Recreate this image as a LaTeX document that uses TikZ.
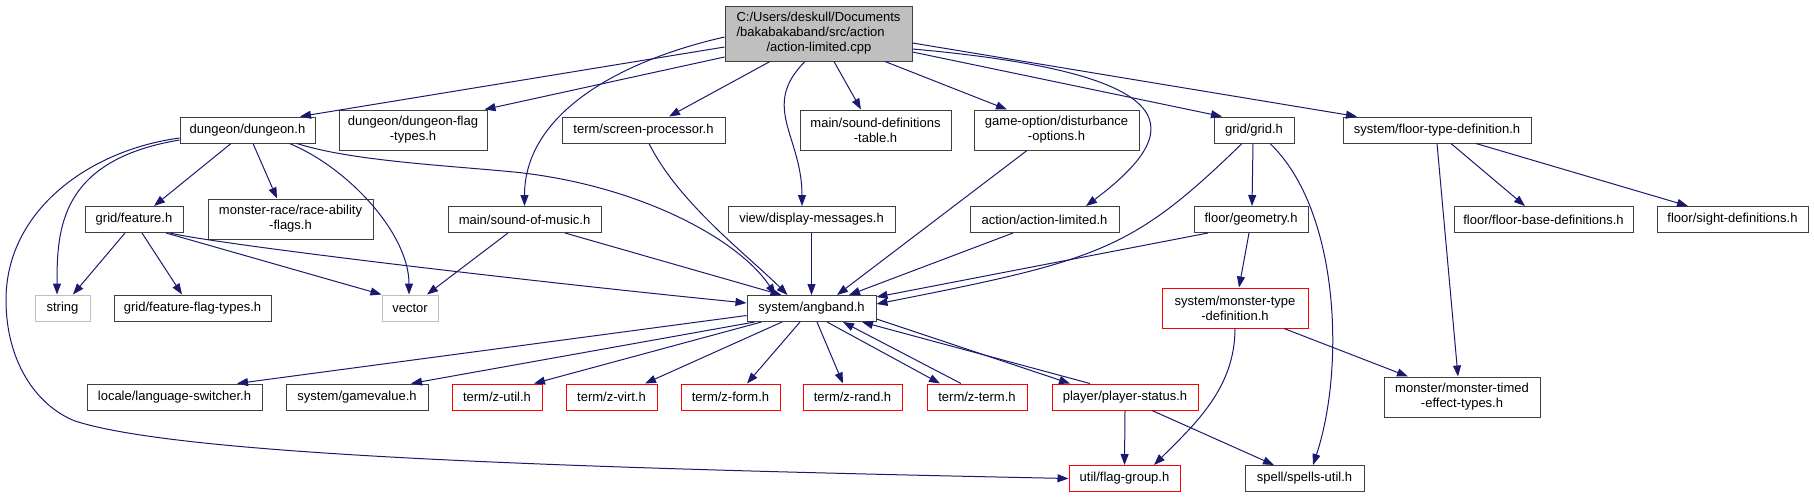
\documentclass[tikz,border=0pt]{standalone}
\usepackage{fontspec}
\setmainfont{Liberation Sans}
\usetikzlibrary{arrows.meta}
\definecolor{edgeblue}{RGB}{25,25,112}
\definecolor{boxgray}{RGB}{64,64,64}
\definecolor{rootfill}{RGB}{191,191,191}
\definecolor{extgray}{RGB}{191,191,191}
\begin{document}
\begin{tikzpicture}[x=1pt,y=-1pt,
  file/.style={draw=boxgray, line width=1pt, fill=white, inner sep=0pt,
    minimum height=26pt, align=center, font=\fontsize{13}{15}\selectfont},
  tall/.style={minimum height=40pt},
  redfile/.style={file, draw=red},
  extfile/.style={file, draw=extgray},
  inc/.style={draw=edgeblue, line width=1pt, -{Triangle[length=11pt,width=8pt]}}]
  \useasboundingbox (0,0) rectangle (1814,499);
  % --- the file itself, on top
  \node[file, fill=rootfill, minimum width=187pt, minimum height=55pt, align=left] (cpp) at (818.5,33.5)
    {C:/Users/deskull/Documents\\/bakabakaband/src/action\\\hspace*{30pt}/action-limited.cpp};
  % --- first row of headers
  \node[file, minimum width=135pt] (dungeon) at (247.5,130) {dungeon/dungeon.h};
  \node[file, tall, minimum width=148pt] (dflag) at (413,130) {dungeon/dungeon-flag\\-types.h};
  \node[file, minimum width=163pt] (screenproc) at (643.5,130) {term/screen-processor.h};
  \node[file, tall, minimum width=151pt] (sounddef) at (875.5,130) {main/sound-definitions\\-table.h};
  \node[file, tall, minimum width=165pt] (disturb) at (1056.5,130) {game-option/disturbance\\-options.h};
  \node[file, minimum width=80pt] (grid) at (1254,130) {grid/grid.h};
  \node[file, minimum width=188pt] (floortype) at (1437,130) {system/floor-type-definition.h};
  % --- second row
  \node[file, minimum width=98pt] (feature) at (134,219.5) {grid/feature.h};
  \node[file, tall, minimum width=165pt] (raceflags) at (290.5,219) {monster-race/race-ability\\-flags.h};
  \node[file, minimum width=153pt] (soundmusic) at (524.5,219.5) {main/sound-of-music.h};
  \node[file, minimum width=167pt] (dispmsg) at (811.5,219.5) {view/display-messages.h};
  \node[file, minimum width=149pt] (actionlim) at (1044.5,219.5) {action/action-limited.h};
  \node[file, minimum width=114pt] (geometry) at (1251,219.5) {floor/geometry.h};
  \node[file, minimum width=179pt] (floorbase) at (1543.5,219.5) {floor/floor-base-definitions.h};
  \node[file, minimum width=151pt] (sight) at (1732.5,219.5) {floor/sight-definitions.h};
  % --- third row
  \node[extfile, minimum width=55pt] (string) at (62.5,308) {string};
  \node[file, minimum width=157pt] (featflag) at (192.5,308) {grid/feature-flag-types.h};
  \node[extfile, minimum width=56pt] (vector) at (410,308) {vector};
  \node[file, minimum width=129pt] (angband) at (811.5,308.5) {system/angband.h};
  \node[redfile, tall, minimum width=146pt] (montype) at (1235,308) {system/monster-type\\-definition.h};
  % --- fourth row
  \node[file, minimum width=175pt] (langsw) at (174.5,397) {locale/language-switcher.h};
  \node[file, minimum width=142pt] (gamevalue) at (357,397) {system/gamevalue.h};
  \node[redfile, minimum width=90pt] (zutil) at (497,397) {term/z-util.h};
  \node[redfile, minimum width=91pt] (zvirt) at (611.5,397) {term/z-virt.h};
  \node[redfile, minimum width=99pt] (zform) at (730.5,397) {term/z-form.h};
  \node[redfile, minimum width=99pt] (zrand) at (852.5,397) {term/z-rand.h};
  \node[redfile, minimum width=100pt] (zterm) at (977,397) {term/z-term.h};
  \node[redfile, minimum width=146pt] (playerstat) at (1125,397) {player/player-status.h};
  \node[file, tall, minimum width=156pt] (montimed) at (1462,397) {monster/monster-timed\\-effect-types.h};
  % --- bottom row
  \node[redfile, minimum width=111pt] (flaggroup) at (1124.5,478.5) {util/flag-group.h};
  \node[file, minimum width=119pt] (spells) at (1304.5,478.5) {spell/spells-util.h};

  % --- includes of the .cpp
  \draw[inc] ([yshift=-13.5]cpp.west) -- ([xshift=52.5]dungeon.north);
  \draw[inc] ([yshift=-23.5]cpp.west) -- ([xshift=-3]dflag.north east);
  \draw[inc] ([yshift=-3.5]cpp.west) .. controls +(-110,25) and +(0,-90) .. (soundmusic.north);
  \draw[inc] ([xshift=-48.5]cpp.south) -- ([xshift=25.5]screenproc.north);
  \draw[inc] ([xshift=-13.5]cpp.south) .. controls +(-45,45) and +(0,-70) .. ([xshift=-9.5]dispmsg.north);
  \draw[inc] ([xshift=15.5]cpp.south) -- ([xshift=-14.5]sounddef.north);
  \draw[inc] ([xshift=66.5]cpp.south) -- ([xshift=-49.5]disturb.north);
  \draw[inc] ([yshift=-15.5]cpp.east) .. controls +(280,25) and +(100,-75) .. ([xshift=41.5]actionlim.north);
  \draw[inc] ([yshift=-18.5]cpp.east) -- ([xshift=-32]grid.north);
  \draw[inc] ([yshift=-9.5]cpp.east) -- ([xshift=-80]floortype.north);
  % --- dungeon.h
  \draw[inc] ([yshift=-10]dungeon.west) .. controls +(-120,20) and +(0,-65) .. ([xshift=-5.5]string.north);
  \draw[inc] ([yshift=-8]dungeon.west) .. controls (90,150) and (6,210) .. (6,300)
    .. controls (6,360) and (35,405) .. (75,421)
    .. controls (180,455) and (560,468) .. (flaggroup.west);
  \draw[inc] ([xshift=-16.5]dungeon.south) -- ([xshift=20]feature.north);
  \draw[inc] ([xshift=5.5]dungeon.south) -- ([xshift=-13.5]raceflags.north);
  \draw[inc] ([xshift=42]dungeon.south) .. controls +(60,25) and +(0,-60) .. ([xshift=-1]vector.north);
  \draw[inc] ([xshift=49.5]dungeon.south) .. controls +(53,17) and +(-74,-7) .. (514,172)
    .. controls +(126,13) and +(-36,-55) .. ([xshift=-36]angband.north);
  % --- grid/feature.h
  \draw[inc] ([xshift=-9]feature.south) -- ([xshift=10.5]string.north);
  \draw[inc] ([xshift=8]feature.south) -- ([xshift=-10.5]featflag.north);
  \draw[inc] ([xshift=32]feature.south) -- (vector.north west);
  \draw[inc] ([xshift=36]feature.south) .. controls +(40,10) and +(-250,-25) .. ([yshift=5.5]angband.west);
  % --- second row into angband.h
  \draw[inc] ([xshift=-16.5]soundmusic.south) -- ([xshift=17]vector.north);
  \draw[inc] ([xshift=40.5]soundmusic.south) -- ([xshift=-30]angband.north);
  \draw[inc] ([xshift=5.5]screenproc.south) .. controls +(30,60) and +(-40,-40) .. ([xshift=-24]angband.north);
  \draw[inc] (dispmsg.south) -- (angband.north);
  \draw[inc] ([xshift=-29.5]disturb.south) -- ([xshift=25.5]angband.north);
  \draw[inc] ([xshift=-31.5]actionlim.south) -- ([xshift=37.5]angband.north);
  % --- grid.h and floor files
  \draw[inc] ([xshift=-12]grid.south) .. controls +(-110,107) and +(223,-44) .. ([yshift=4.5]angband.east);
  \draw[inc] ([xshift=-1]grid.south) -- ([xshift=1]geometry.north);
  \draw[inc] ([xshift=16]grid.south) .. controls +(70,67) and +(32,-96) .. ([xshift=8.5]spells.north);
  \draw[inc] ([xshift=14]floortype.south) -- ([xshift=-18.5]floorbase.north);
  \draw[inc] ([xshift=39]floortype.south) -- ([xshift=-44.5]sight.north);
  \draw[inc] (floortype.south) -- ([xshift=-4]montimed.north);
  \draw[inc] ([xshift=-43]geometry.south) -- ([yshift=11.5]angband.east);
  \draw[inc] ([xshift=-2]geometry.south) -- ([xshift=4]montype.north);
  \draw[inc] ([xshift=49]montype.south) -- ([xshift=-54]montimed.north);
  \draw[inc] (montype.south) .. controls +(0,60) and +(40,-40) .. ([xshift=29.5]flaggroup.north);
  % --- out of angband.h (and the two back edges)
  \draw[inc] ([yshift=-7]angband.west) -- ([xshift=62.5]langsw.north);
  \draw[inc] ([xshift=8]angband.south west) -- ([xshift=54]gamevalue.north);
  \draw[inc] ([xshift=15]angband.south west) -- ([xshift=37]zutil.north);
  \draw[inc] ([xshift=-29.5]angband.south) -- ([xshift=33.5]zvirt.north);
  \draw[inc] ([xshift=-11.5]angband.south) -- ([xshift=16.5]zform.north);
  \draw[inc] ([xshift=5.5]angband.south) -- ([xshift=-9.5]zrand.north);
  \draw[inc] ([xshift=15.5]angband.south) -- ([xshift=-37]zterm.north);
  \draw[inc] ([xshift=-16]zterm.north) -- ([xshift=31.5]angband.south);
  \draw[inc] ([yshift=3]angband.south east) -- ([xshift=-55]playerstat.north);
  \draw[inc] ([xshift=-35]playerstat.north) -- ([xshift=50.5]angband.south);
  % --- player-status.h
  \draw[inc] (playerstat.south) -- (flaggroup.north);
  \draw[inc] ([xshift=27]playerstat.south) -- ([xshift=-30.5]spells.north);
\end{tikzpicture}
\end{document}
